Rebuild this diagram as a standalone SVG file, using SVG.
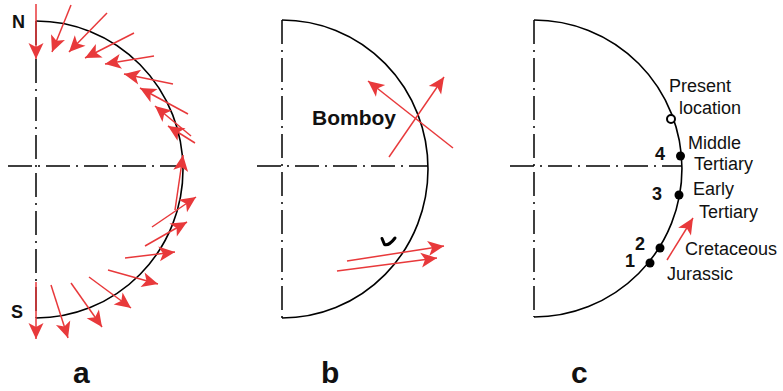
<svg xmlns="http://www.w3.org/2000/svg" width="783" height="391" viewBox="0 0 783 391">
<style>
.curve{fill:none;stroke:#000;stroke-width:1.6}
.axis{fill:none;stroke:#000;stroke-width:1.5;stroke-dasharray:24 6 2 6}
.arr{fill:none;stroke:#E8393B;stroke-width:1.5;marker-end:url(#ah)}
.lbl{font-family:"Liberation Sans",Arial,sans-serif;font-size:18px;fill:#111}
.bold{font-weight:bold}
.panel{font-family:"Liberation Sans",Arial,sans-serif;font-size:30px;font-weight:bold;fill:#111}
.dot{fill:#000}
</style>
<defs>
<marker id="ah" viewBox="-18 -9 19 18" refX="0" refY="0" markerWidth="19" markerHeight="18" markerUnits="userSpaceOnUse" orient="auto">
<path d="M0,0 L-16,-7.5 L-12,0 L-16,7.5 Z" fill="#E8393B"/>
</marker>
</defs>

<g id="panel-a">
<path class="axis" d="M36,21 V318"/>
<path class="axis" d="M8,166 H182"/>
<path class="curve" d="M36,21 A147,148.5 0 0 1 36,318"/>
<text class="lbl bold" x="12" y="28">N</text>
<text class="lbl bold" x="11" y="318">S</text>
<text class="panel" x="73" y="383">a</text>
</g>

<g id="panel-b">
<path class="axis" d="M282,20 V318"/>
<path class="axis" d="M257,166 H428"/>
<path class="curve" d="M282,20 A146,149 0 0 1 282,318"/>
<text class="lbl bold" x="312" y="125" style="font-size:21px">Bomboy</text>
<path d="M382,238.5 L384.5,244.5 Q389,246 395,238" fill="none" stroke="#000" stroke-width="3" stroke-linecap="round" stroke-linejoin="round"/>
<text class="panel" x="321" y="383">b</text>
</g>

<g id="panel-c">
<path class="axis" d="M534,20 V317"/>
<path class="axis" d="M510,166 H682"/>
<path class="curve" d="M534,20 A148,148.5 0 0 1 534,317"/>
<circle cx="671" cy="119" r="4" fill="#fff" stroke="#000" stroke-width="2"/>
<circle class="dot" cx="680.5" cy="156" r="4.5"/>
<circle class="dot" cx="679" cy="195" r="4.5"/>
<circle class="dot" cx="660" cy="248" r="4.5"/>
<circle class="dot" cx="650" cy="263" r="4.5"/>
<text class="lbl" x="669" y="92">Present</text>
<text class="lbl" x="679" y="114">location</text>
<text class="lbl" x="688" y="149">Middle</text>
<text class="lbl" x="694" y="170">Tertiary</text>
<text class="lbl" x="693" y="195">Early</text>
<text class="lbl" x="699" y="218">Tertiary</text>
<text class="lbl" x="685" y="255">Cretaceous</text>
<text class="lbl" x="667" y="280">Jurassic</text>
<text class="lbl bold" x="655" y="160">4</text>
<text class="lbl bold" x="652" y="200">3</text>
<text class="lbl bold" x="635" y="250">2</text>
<text class="lbl bold" x="625" y="267">1</text>
<text class="panel" x="571" y="383">c</text>
</g>

<g id="connectors">
<path class="arr" d="M36,4 L36,59"/>
<path class="arr" d="M71,5 L52,52"/>
<path class="arr" d="M107,13 L69,52"/>
<path class="arr" d="M134,33 L85,58"/>
<path class="arr" d="M154,56 L105,64"/>
<path class="arr" d="M173,84 L124,74"/>
<path class="arr" d="M188,114 L140,88"/>
<path class="arr" d="M191,136 L155,106"/>
<path class="arr" d="M195,143 L168,126"/>
<path class="arr" d="M175,210 L183,155"/>
<path class="arr" d="M152,227 L196,197"/>
<path class="arr" d="M145,246 L187,222"/>
<path class="arr" d="M125,258 L175,252"/>
<path class="arr" d="M108,270 L158,284"/>
<path class="arr" d="M89,277 L131,308"/>
<path class="arr" d="M71,283 L102,327"/>
<path class="arr" d="M51,285 L68,338"/>
<path class="arr" d="M36,282 L36,339"/>
<path class="arr" d="M453,148 L368,81"/>
<path class="arr" d="M389,157 L444,77"/>
<path class="arr" d="M347,261 L444,246"/>
<path class="arr" d="M337,271 L437,258"/>
<path class="arr" d="M667,260 L693,218"/>
</g>
</svg>
